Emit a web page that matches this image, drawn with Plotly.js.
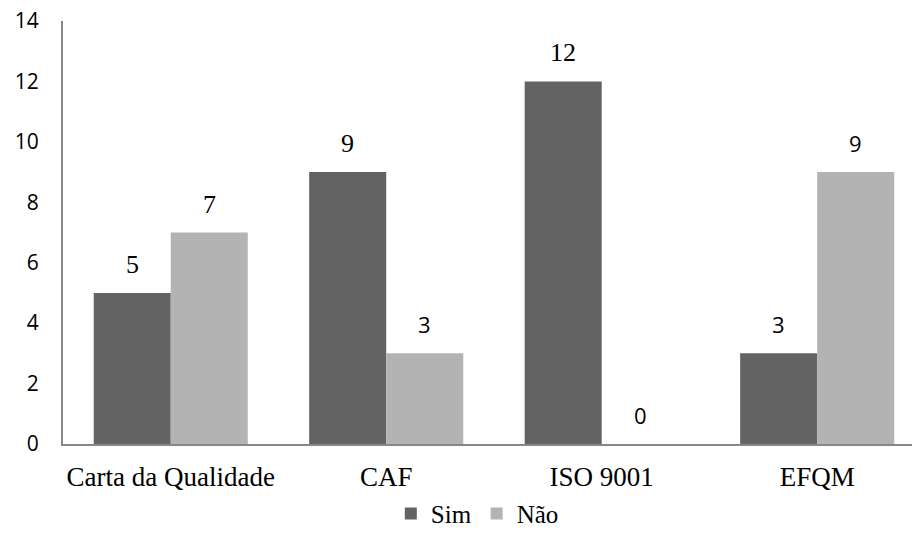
<!DOCTYPE html>
<html>
<head>
<meta charset="utf-8">
<script src="https://cdn.plot.ly/plotly-3.0.1.min.js"></script>
<style>
  html, body { margin: 0; padding: 0; background: #ffffff; }
  #chart { width: 912px; height: 543px; }
</style>
</head>
<body>
<div id="chart"></div>
<script>
// Quality instruments adopted: answers "Sim" / "Não" per instrument
const categories = ['Carta da Qualidade', 'CAF', 'ISO 9001', 'EFQM'];
const simValues = [5, 9, 12, 3];
const naoValues = [7, 3, 0, 9];
const yTickValues = [0, 2, 4, 6, 8, 10, 12, 14];

const SERIF = '"Liberation Serif", "Times New Roman", serif';
const SANS = '"Open Sans", "Liberation Sans", sans-serif';

// Value labels alternate between a serif and a sans face
const simLabelFonts = [SERIF, SERIF, SERIF, SANS];
const naoLabelFonts = [SERIF, SANS, SANS, SANS];

const SIM_COLOR = '#636363';
const NAO_COLOR = '#b3b3b3';

const xIdx = categories.map((_, i) => i);
const half = 0.179; // centre offset of each bar within its group

const traces = [
  {
    type: 'bar', name: 'Sim', x: xIdx, y: simValues,
    marker: { color: SIM_COLOR }, hoverinfo: 'skip'
  },
  {
    type: 'bar', name: 'Não', x: xIdx, y: naoValues,
    marker: { color: NAO_COLOR }, hoverinfo: 'skip'
  }
];

function labelSize(family) { return family === SERIF ? 26 : 22; }

const annotations = [];
simValues.forEach((v, i) => annotations.push({
  x: i - half, y: v, xref: 'x', yref: 'y', text: String(v), showarrow: false,
  yanchor: 'bottom', yshift: 12,
  font: { family: simLabelFonts[i], size: labelSize(simLabelFonts[i]), color: '#000000' }
}));
naoValues.forEach((v, i) => annotations.push({
  x: i + half, y: v, xref: 'x', yref: 'y', text: String(v), showarrow: false,
  yanchor: 'bottom', yshift: 12,
  font: { family: naoLabelFonts[i], size: labelSize(naoLabelFonts[i]), color: '#000000' }
}));

const layout = {
  width: 912, height: 543,
  margin: { l: 63, r: 0, t: 21, b: 99 },
  font: { family: SERIF, size: 26, color: '#000000' },
  paper_bgcolor: '#ffffff', plot_bgcolor: '#ffffff',
  barmode: 'group', bargap: 0.285, bargroupgap: 0,
  showlegend: true,
  legend: {
    orientation: 'h', x: 0.488, xanchor: 'center', y: -0.165, yanchor: 'middle',
    font: { family: SERIF, size: 25, color: '#000000' },
    itemwidth: 30, traceorder: 'normal'
  },
  xaxis: {
    type: 'linear', range: [-0.5, 3.44],
    tickmode: 'array', tickvals: xIdx, ticktext: categories,
    showgrid: false, zeroline: false, showline: true,
    linecolor: '#878787', linewidth: 2, ticks: '',
    ticklabelstandoff: 8,
    tickfont: { family: SERIF, size: 27, color: '#000000' }
  },
  yaxis: {
    range: [0, 14], tickmode: 'array', tickvals: yTickValues,
    showgrid: false, zeroline: false, showline: true,
    linecolor: '#878787', linewidth: 2, ticks: '',
    ticklabelstandoff: 18,
    tickfont: { family: SANS, size: 21, color: '#000000' }
  },
  annotations: annotations
};

Plotly.newPlot('chart', traces, layout, { displayModeBar: false, staticPlot: true });
</script>
</body>
</html>
